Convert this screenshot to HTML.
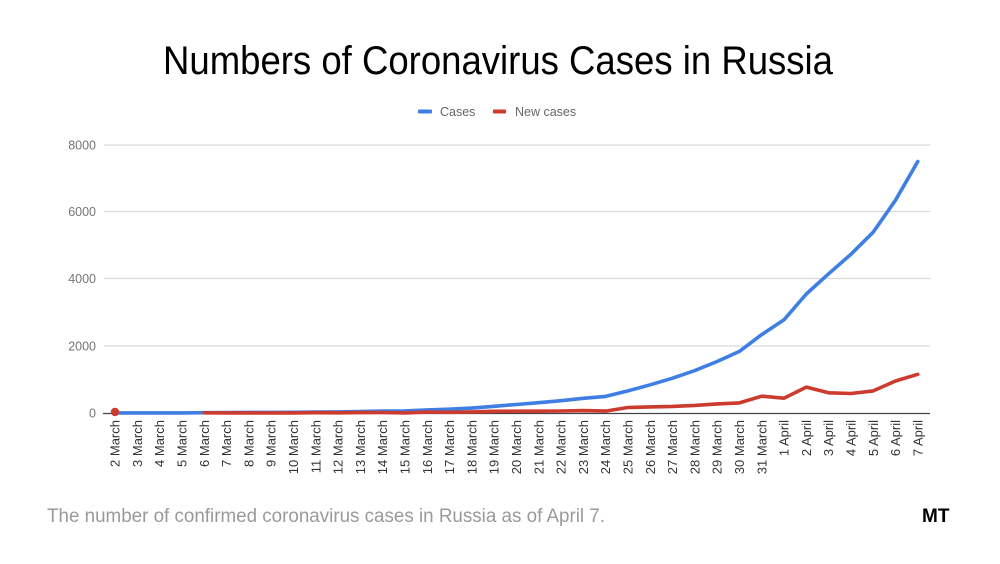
<!DOCTYPE html>
<html><head><meta charset="utf-8"><style>
html,body{margin:0;padding:0;background:#fff;}
svg{display:block;}
</style></head><body>
<svg width="1000" height="564" viewBox="0 0 1000 564" xmlns="http://www.w3.org/2000/svg" font-family="Liberation Sans, Arial, sans-serif">
<rect width="1000" height="564" fill="#fff"/>
<text x="163" y="74" font-size="40" fill="#000" textLength="670" lengthAdjust="spacingAndGlyphs">Numbers of Coronavirus Cases in Russia</text>
<!-- legend -->
<rect x="418" y="109.5" width="14" height="4" rx="1" fill="#3f7fe3"/>
<text x="440" y="116" font-size="12.5" fill="#666">Cases</text>
<rect x="493" y="109.5" width="13" height="4" rx="1" fill="#cc3b2e"/>
<text x="515" y="116" font-size="12.5" fill="#666">New cases</text>
<!-- grid -->
<g stroke="#d9d9d9" stroke-width="1.2">
<line x1="104" y1="145" x2="930" y2="145"/>
<line x1="104" y1="211.5" x2="930" y2="211.5"/>
<line x1="104" y1="278.5" x2="930" y2="278.5"/>
<line x1="104" y1="346" x2="930" y2="346"/>
</g>
<g font-size="12.5" fill="#757575" text-anchor="end">
<text x="96" y="149.5">8000</text>
<text x="96" y="216">6000</text>
<text x="96" y="283">4000</text>
<text x="96" y="350.5">2000</text>
<text x="96" y="417.5">0</text>
</g>
<line x1="103" y1="413.5" x2="930" y2="413.5" stroke="#444" stroke-width="1.2"/>
<!-- series -->
<polyline fill="none" stroke="#3f7fe3" stroke-width="3.6" stroke-linejoin="round" stroke-linecap="round" points="115,412.9 137.3,412.9 159.6,412.9 181.9,412.9 204.2,412.7 226.5,412.5 248.8,412.4 271.1,412.4 293.4,412.3 315.7,412.1 338,411.9 360.3,411.5 382.6,411 404.9,410.9 427.2,409.9 449.5,409.2 471.8,408.1 494.1,406.3 516.4,404.5 538.7,402.7 561,400.7 583.3,398.3 605.6,396.4 627.9,390.9 650.2,384.8 672.5,378.2 694.8,370.6 717.1,361.5 739.4,351.4 761.7,334.6 784,319.8 806.3,294 828.6,273.8 850.9,254.3 873.2,232.2 895.5,200.2 917.8,161.5"/>
<circle cx="115" cy="412" r="4.2" fill="#cc3b2e"/>
<polyline fill="none" stroke="#cc3b2e" stroke-width="3.6" stroke-linejoin="round" stroke-linecap="round" points="204.2,412.8 226.5,412.9 248.8,412.9 271.1,413 293.4,412.9 315.7,412.7 338,412.8 360.3,412.6 382.6,412.5 404.9,412.9 427.2,412 449.5,412.3 471.8,411.9 494.1,411.3 516.4,411.2 538.7,411.2 561,411 583.3,410.6 605.6,411.1 627.9,407.5 650.2,406.9 672.5,406.4 694.8,405.4 717.1,403.9 739.4,402.9 761.7,396.2 784,398.2 806.3,387.1 828.6,392.8 850.9,393.5 873.2,390.9 895.5,381 917.8,374.3"/>
<!-- x labels -->
<g font-size="13" fill="#333" text-anchor="end">
<text transform="translate(115,420) rotate(-90)" dy="0.35em">2 March</text>
<text transform="translate(137.3,420) rotate(-90)" dy="0.35em">3 March</text>
<text transform="translate(159.6,420) rotate(-90)" dy="0.35em">4 March</text>
<text transform="translate(181.9,420) rotate(-90)" dy="0.35em">5 March</text>
<text transform="translate(204.2,420) rotate(-90)" dy="0.35em">6 March</text>
<text transform="translate(226.5,420) rotate(-90)" dy="0.35em">7 March</text>
<text transform="translate(248.8,420) rotate(-90)" dy="0.35em">8 March</text>
<text transform="translate(271.1,420) rotate(-90)" dy="0.35em">9 March</text>
<text transform="translate(293.4,420) rotate(-90)" dy="0.35em">10 March</text>
<text transform="translate(315.7,420) rotate(-90)" dy="0.35em">11 March</text>
<text transform="translate(338,420) rotate(-90)" dy="0.35em">12 March</text>
<text transform="translate(360.3,420) rotate(-90)" dy="0.35em">13 March</text>
<text transform="translate(382.6,420) rotate(-90)" dy="0.35em">14 March</text>
<text transform="translate(404.9,420) rotate(-90)" dy="0.35em">15 March</text>
<text transform="translate(427.2,420) rotate(-90)" dy="0.35em">16 March</text>
<text transform="translate(449.5,420) rotate(-90)" dy="0.35em">17 March</text>
<text transform="translate(471.8,420) rotate(-90)" dy="0.35em">18 March</text>
<text transform="translate(494.1,420) rotate(-90)" dy="0.35em">19 March</text>
<text transform="translate(516.4,420) rotate(-90)" dy="0.35em">20 March</text>
<text transform="translate(538.7,420) rotate(-90)" dy="0.35em">21 March</text>
<text transform="translate(561,420) rotate(-90)" dy="0.35em">22 March</text>
<text transform="translate(583.3,420) rotate(-90)" dy="0.35em">23 March</text>
<text transform="translate(605.6,420) rotate(-90)" dy="0.35em">24 March</text>
<text transform="translate(627.9,420) rotate(-90)" dy="0.35em">25 March</text>
<text transform="translate(650.2,420) rotate(-90)" dy="0.35em">26 March</text>
<text transform="translate(672.5,420) rotate(-90)" dy="0.35em">27 March</text>
<text transform="translate(694.8,420) rotate(-90)" dy="0.35em">28 March</text>
<text transform="translate(717.1,420) rotate(-90)" dy="0.35em">29 March</text>
<text transform="translate(739.4,420) rotate(-90)" dy="0.35em">30 March</text>
<text transform="translate(761.7,420) rotate(-90)" dy="0.35em">31 March</text>
<text transform="translate(784,420) rotate(-90)" dy="0.35em">1 April</text>
<text transform="translate(806.3,420) rotate(-90)" dy="0.35em">2 April</text>
<text transform="translate(828.6,420) rotate(-90)" dy="0.35em">3 April</text>
<text transform="translate(850.9,420) rotate(-90)" dy="0.35em">4 April</text>
<text transform="translate(873.2,420) rotate(-90)" dy="0.35em">5 April</text>
<text transform="translate(895.5,420) rotate(-90)" dy="0.35em">6 April</text>
<text transform="translate(917.8,420) rotate(-90)" dy="0.35em">7 April</text>
</g>
<!-- caption -->
<text x="47" y="522" font-size="19" fill="#9a9a9a" textLength="558" lengthAdjust="spacingAndGlyphs">The number of confirmed coronavirus cases in Russia as of April 7.</text>
<text x="922" y="522" font-size="19" font-weight="bold" fill="#000">MT</text>
</svg>
</body></html>
